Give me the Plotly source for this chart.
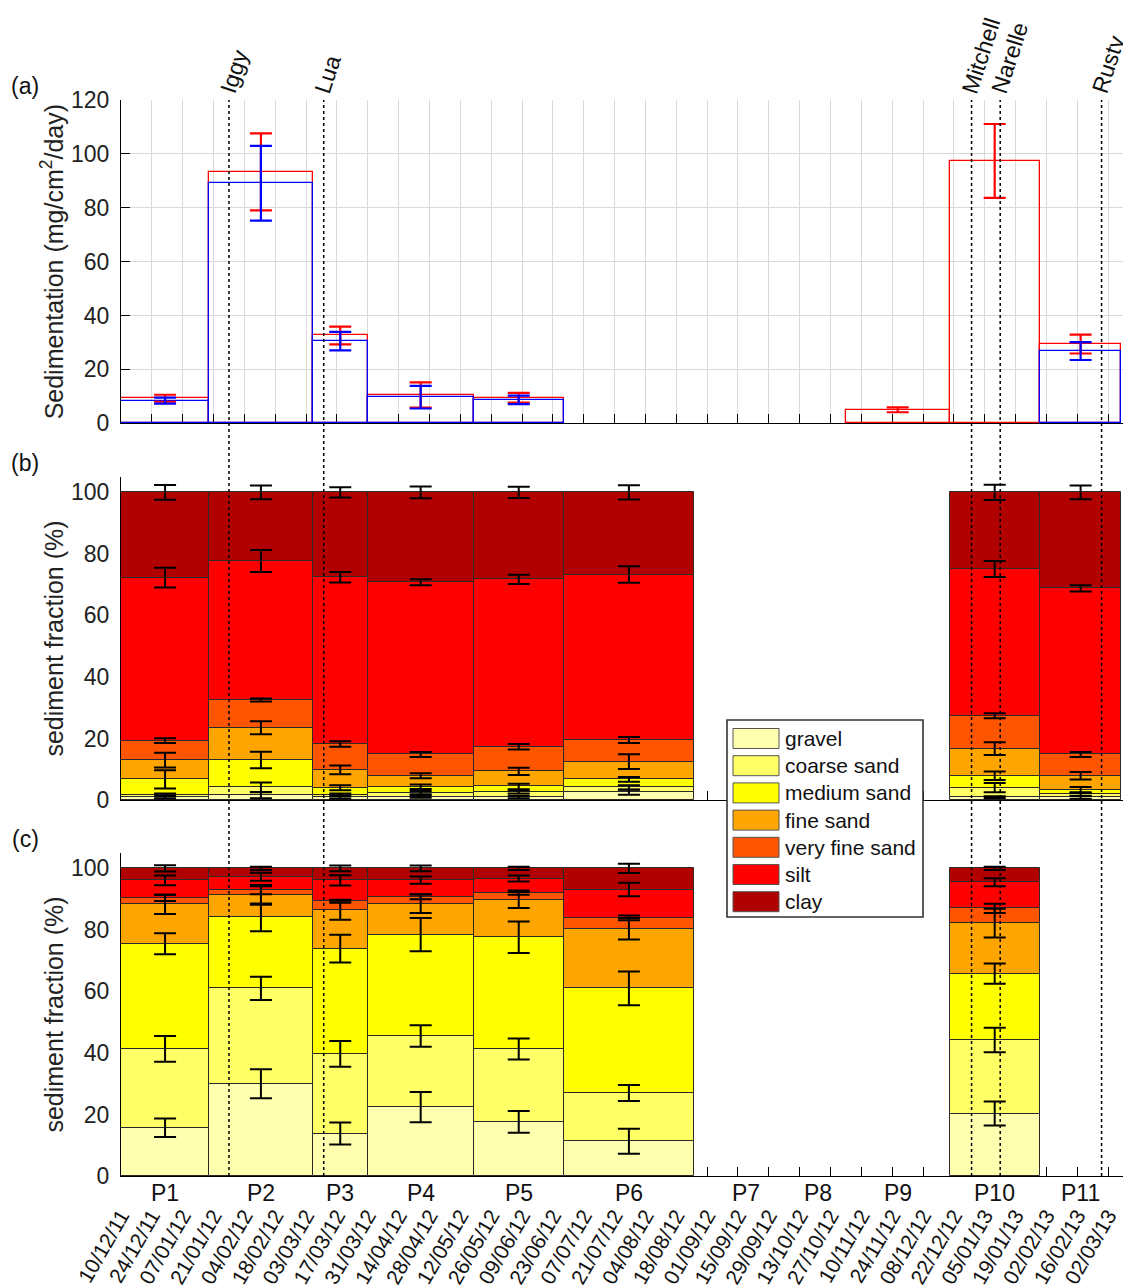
import plotly.graph_objects as go
import pandas as pd
import numpy as np

# ---------------- data ----------------
periods = ["P1", "P2", "P3", "P4", "P5", "P6", "P7", "P8", "P9", "P10", "P11"]
period_start = ["2011-12-10", "2012-01-19", "2012-03-06", "2012-03-31", "2012-05-18", "2012-06-28",
                "2012-08-26", "2012-10-12", "2012-11-03", "2012-12-20", "2013-01-30"]
period_end = ["2012-01-19", "2012-03-06", "2012-03-31", "2012-05-18", "2012-06-28", "2012-08-26",
              "2012-10-12", "2012-10-31", "2012-12-20", "2013-01-30", "2013-03-08"]

date_tick_labels = ["10/12/11", "24/12/11", "07/01/12", "21/01/12", "04/02/12", "18/02/12", "03/03/12",
                    "17/03/12", "31/03/12", "14/04/12", "28/04/12", "12/05/12", "26/05/12", "09/06/12",
                    "23/06/12", "07/07/12", "21/07/12", "04/08/12", "18/08/12", "01/09/12", "15/09/12",
                    "29/09/12", "13/10/12", "27/10/12", "10/11/12", "24/11/12", "08/12/12", "22/12/12",
                    "05/01/13", "19/01/13", "02/02/13", "16/02/13", "02/03/13"]

storm_names = ["Iggy", "Lua", "Mitchell", "Narelle", "Rusty"]
storm_dates = ["2012-01-28", "2012-03-11", "2012-12-30", "2013-01-12", "2013-02-27"]

# panel (a): sedimentation rate (mg/cm2/day)
sed_red = [9.3, 93.3, 32.6, 10.5, 9.5, None, None, None, 5.0, 97.4, 29.4]
sed_red_err = [1.3, 14.3, 3.3, 4.7, 1.8, None, None, None, 0.9, 13.7, 3.5]
sed_blue = [8.4, 89.1, 30.5, 9.7, 8.7, None, None, None, None, None, 26.8]
sed_blue_err = [1.1, 13.9, 3.4, 4.2, 1.6, None, None, None, None, None, 3.3]

categories = ["gravel", "coarse sand", "medium sand", "fine sand", "very fine sand", "silt", "clay"]
colors = ["#FFFFB0", "#FFFF66", "#FFFF00", "#FFA500", "#FF5500", "#FF0000", "#B00000"]

# panel (b): sediment fraction (%) per period
b_gravel = [0.9, 1.6, 0.9, 1.1, 1.0, 2.5, None, None, None, 0.9, 0.9]
b_coarse = [0.7, 2.5, 0.7, 1.3, 1.6, 1.6, None, None, None, 3.1, 1.0]
b_medium = [5.1, 8.9, 2.4, 1.9, 1.8, 2.6, None, None, None, 3.9, 1.35]
b_fine = [6.3, 10.5, 5.8, 3.6, 4.9, 5.8, None, None, None, 8.8, 4.65]
b_vfine = [6.3, 9.0, 8.4, 6.9, 8.0, 7.0, None, None, None, 10.7, 6.9]
b_silt = [53.0, 45.2, 54.2, 56.0, 54.4, 53.8, None, None, None, 47.7, 54.0]
b_clay = [27.7, 22.3, 27.6, 29.2, 28.3, 26.7, None, None, None, 24.9, 31.2]

b_gravel_err = [0.4, 1.0, 0.5, 0.4, 0.4, 0.8, None, None, None, 0.3, 0.5]
b_coarse_err = [0.5, 1.6, 0.5, 0.5, 0.5, 0.7, None, None, None, 1.5, 0.6]
b_medium_err = [3.0, 2.7, 0.8, 0.7, 0.9, 0.8, None, None, None, 1.4, 1.0]
b_fine_err = [2.4, 2.1, 1.4, 0.8, 1.2, 2.4, None, None, None, 2.1, 1.2]
b_vfine_err = [0.8, 0.5, 0.9, 0.8, 0.9, 1.0, None, None, None, 0.8, 0.8]
b_silt_err = [3.2, 3.6, 1.7, 1.0, 1.5, 2.7, None, None, None, 2.6, 1.0]
b_clay_err = [2.4, 2.2, 1.7, 1.9, 1.8, 2.3, None, None, None, 2.5, 2.2]

# panel (c): sediment fraction (%) per period
c_gravel = [15.7, 30.0, 13.8, 22.4, 17.6, 11.3, None, None, None, 20.3, None]
c_coarse = [25.6, 31.0, 25.9, 23.1, 23.7, 15.7, None, None, None, 23.9, None]
c_medium = [34.2, 23.1, 34.2, 33.0, 36.3, 34.0, None, None, None, 21.6, None]
c_fine = [12.8, 7.1, 12.5, 10.0, 12.1, 19.4, None, None, None, 16.4, None]
c_vfine = [2.1, 1.9, 2.9, 2.3, 2.4, 3.5, None, None, None, 4.8, None]
c_silt = [5.7, 4.2, 6.8, 5.4, 4.6, 9.2, None, None, None, 8.5, None]
c_clay = [3.9, 2.7, 3.9, 3.8, 3.3, 6.9, None, None, None, 4.5, None]

c_gravel_err = [3.0, 4.7, 3.6, 4.9, 3.5, 4.1, None, None, None, 3.9, None]
c_coarse_err = [4.2, 3.8, 4.2, 3.5, 3.4, 2.6, None, None, None, 4.0, None]
c_medium_err = [3.4, 4.5, 4.5, 5.4, 5.1, 5.5, None, None, None, 3.3, None]
c_fine_err = [3.1, 3.0, 3.1, 3.0, 2.6, 3.5, None, None, None, 4.7, None]
c_vfine_err = [1.0, 1.5, 0.5, 0.8, 0.7, 0.8, None, None, None, 1.5, None]
c_silt_err = [1.6, 1.3, 1.7, 1.2, 1.0, 2.2, None, None, None, 1.3, None]
c_clay_err = [1.0, 0.5, 0.9, 0.9, 0.5, 1.5, None, None, None, 0.5, None]

b_fracs = [b_gravel, b_coarse, b_medium, b_fine, b_vfine, b_silt, b_clay]
b_errs = [b_gravel_err, b_coarse_err, b_medium_err, b_fine_err, b_vfine_err, b_silt_err, b_clay_err]
c_fracs = [c_gravel, c_coarse, c_medium, c_fine, c_vfine, c_silt, c_clay]
c_errs = [c_gravel_err, c_coarse_err, c_medium_err, c_fine_err, c_vfine_err, c_silt_err, c_clay_err]

# ---------------- derived ----------------
ps = pd.to_datetime(pd.Series(period_start))
pe = pd.to_datetime(pd.Series(period_end))
mid = ps + (pe - ps) / 2
mid_str = [d.strftime("%Y-%m-%d %H:%M:%S") for d in mid]
width_ms = [(e - s).total_seconds() * 1000.0 for s, e in zip(ps, pe)]
tick_dates = [d.strftime("%Y-%m-%d") for d in pd.to_datetime(pd.Series(date_tick_labels), format="%d/%m/%y")]


def nl(a):
    return [None if (v is None or (isinstance(v, float) and np.isnan(v))) else float(v) for v in a]


# layout geometry (pixels, in the page; the page body has an 8px margin)
OFF = 8
W, H = 1131 - OFF, 1288 - OFF
ML, MR, MT, MB = 121 - OFF, 3, 100 - OFF, 112
PW = W - ML - MR
PH = H - MT - MB
BOTTOM = OFF + H - MB          # page y of plot-area bottom


def py(pix):
    return (BOTTOM - pix) / PH


def px(pix):
    return (pix - 121) / PW


dom_a = [py(423.3), 1.0]
dom_b = [py(800), py(477)]
dom_c = [0.0, py(853)]

FONT = "Liberation Sans, Arial, Helvetica, sans-serif"

fig = go.Figure()

# ---- panel (a)
for vals, errs, col in [(sed_red, sed_red_err, "#FF0000"), (sed_blue, sed_blue_err, "#0000FF")]:
    fig.add_trace(go.Bar(x=mid_str, y=nl(vals), width=width_ms,
                         marker=dict(color="rgba(0,0,0,0)", line=dict(color=col, width=1.3)),
                         xaxis="x", yaxis="y", showlegend=False, hoverinfo="skip"))
for vals, errs, col in [(sed_red, sed_red_err, "#FF0000"), (sed_blue, sed_blue_err, "#0000FF")]:
    fig.add_trace(go.Scatter(x=mid_str, y=nl(vals), mode="markers",
                             marker=dict(size=1, color="rgba(0,0,0,0)"),
                             error_y=dict(type="data", array=nl(errs), color=col, thickness=2.2, width=11),
                             xaxis="x", yaxis="y", showlegend=False, hoverinfo="skip"))


# ---- panels (b) and (c): stacked bars with base computed from the fractions
def stacked(fracs, errs, xa, ya):
    arr = np.array([[np.nan if v is None else v for v in f] for f in fracs], dtype=float)
    cum = np.cumsum(arr, axis=0)
    base = cum - arr
    for k, cat in enumerate(categories):
        fig.add_trace(go.Bar(x=mid_str, y=nl(arr[k]), base=nl(base[k]), width=width_ms,
                             marker=dict(color=colors[k], line=dict(color="#2a2a2a", width=1)),
                             name=cat, xaxis=xa, yaxis=ya, showlegend=False, hoverinfo="skip"))
    for k, cat in enumerate(categories):
        fig.add_trace(go.Scatter(x=mid_str, y=nl(cum[k]), mode="markers",
                                 marker=dict(size=1, color="rgba(0,0,0,0)"),
                                 error_y=dict(type="data", array=nl(errs[k]), color="black",
                                              thickness=2, width=11),
                                 xaxis=xa, yaxis=ya, showlegend=False, hoverinfo="skip"))


stacked(b_fracs, b_errs, "x2", "y2")
stacked(c_fracs, c_errs, "x3", "y3")

# ---------------- axes ----------------
xrange_ = ["2011-12-10", "2013-03-11"]
xcommon = dict(type="date", range=xrange_, tickmode="array", tickvals=tick_dates,
               ticks="inside", ticklen=9, tickwidth=1.3, tickcolor="black",
               showline=True, linecolor="black", linewidth=1.3, zeroline=False,
               layer="below traces", fixedrange=True)

ycommon = dict(ticks="inside", ticklen=9, tickwidth=1.3, tickcolor="black",
               showline=True, linecolor="black", linewidth=1.3, zeroline=False,
               tickfont=dict(family=FONT, size=23, color="#222"),
               ticklabelstandoff=6, layer="below traces", fixedrange=True)

fig.update_layout(
    xaxis=dict(**xcommon, anchor="y", showticklabels=False, showgrid=True, gridcolor="#d9d9d9", gridwidth=1),
    xaxis2=dict(**xcommon, anchor="y2", showticklabels=False, showgrid=False),
    xaxis3=dict(**xcommon, anchor="y3", showticklabels=True, ticktext=date_tick_labels, tickangle=-60,
                tickfont=dict(family=FONT, size=21, color="#111"), ticklabelstandoff=18, showgrid=False),
    yaxis=dict(**ycommon, domain=dom_a, anchor="x", range=[0, 120], tickvals=[0, 20, 40, 60, 80, 100, 120],
               showgrid=True, gridcolor="#d9d9d9", gridwidth=1,
               title=dict(text="Sedimentation (mg/cm<sup>2</sup>/day)", font=dict(family=FONT, size=25, color="#222"),
                          standoff=0)),
    yaxis2=dict(**ycommon, domain=dom_b, anchor="x2", range=[0, 105], tickvals=[0, 20, 40, 60, 80, 100],
                showgrid=False,
                title=dict(text="sediment fraction (%)", font=dict(family=FONT, size=25, color="#222"), standoff=0)),
    yaxis3=dict(**ycommon, domain=dom_c, anchor="x3", range=[0, 105], tickvals=[0, 20, 40, 60, 80, 100],
                showgrid=False,
                title=dict(text="sediment fraction (%)", font=dict(family=FONT, size=25, color="#222"), standoff=0)),
)

annotations = []
shapes = []

# storm lines and labels
for name, d in zip(storm_names, storm_dates):
    shapes.append(dict(type="line", xref="x", yref="paper", x0=d, x1=d, y0=0, y1=1,
                       line=dict(color="black", width=1.5, dash="dot"), layer="above"))
    annotations.append(dict(x=d, xref="x", y=1, yref="paper", text=name, showarrow=False,
                            textangle=-72, xanchor="left", yanchor="bottom", xshift=-17, yshift=1,
                            font=dict(family=FONT, size=23, color="#111")))

# period labels under panel (c)
for p, m in zip(periods, mid_str):
    annotations.append(dict(x=m, xref="x3", y=0, yref="paper", text=p, showarrow=False,
                            xanchor="center", yanchor="top", yshift=-2,
                            font=dict(family=FONT, size=23, color="#111")))

# panel letters
for lab, top in [("(a)", dom_a[1]), ("(b)", dom_b[1]), ("(c)", dom_c[1])]:
    annotations.append(dict(x=0, xref="paper", y=top, yref="paper", text=lab, showarrow=False,
                            xanchor="center", yanchor="middle", xshift=-96, yshift=14,
                            font=dict(family=FONT, size=23, color="#111")))

# legend (drawn box)
lx0, lx1, ly0, ly1 = 727, 923, 720, 917
shapes.append(dict(type="rect", xref="paper", yref="paper", x0=px(lx0), x1=px(lx1), y0=py(ly1), y1=py(ly0),
                   fillcolor="white", line=dict(color="#333", width=1.6), layer="above"))
row0, step = 738.5, 27.2
for k, cat in enumerate(categories):
    yc = row0 + k * step
    shapes.append(dict(type="rect", xref="paper", yref="paper", x0=px(733), x1=px(779),
                       y0=py(yc + 10), y1=py(yc - 10), fillcolor=colors[k],
                       line=dict(color="#555", width=1), layer="above"))
    annotations.append(dict(x=px(783), xref="paper", y=py(yc), yref="paper", text=cat, showarrow=False,
                            xanchor="left", yanchor="middle", font=dict(family=FONT, size=21, color="#111")))

fig.update_layout(
    width=W, height=H, margin=dict(l=ML, r=MR, t=MT, b=MB, autoexpand=False),
    paper_bgcolor="white", plot_bgcolor="white", barmode="overlay", bargap=0,
    showlegend=False, font=dict(family=FONT, size=23, color="#222"),
    annotations=annotations, shapes=shapes,
)

fig.write_html("out.html")
